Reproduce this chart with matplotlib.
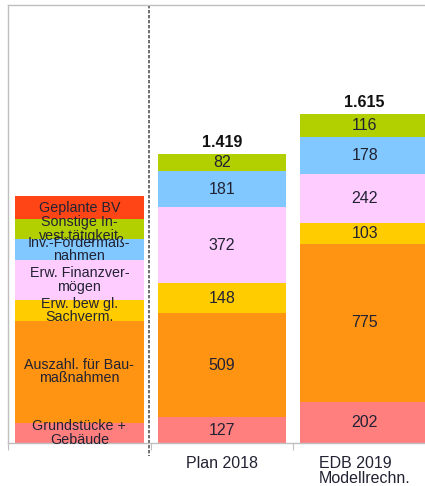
import matplotlib
matplotlib.use("Agg")
import matplotlib.pyplot as plt
import numpy as np

plt.rcParams['font.family'] = ['Liberation Sans', 'DejaVu Sans']

# Data
categories = ["Plan 2018", "EDB 2019\nModellrechn."]
series_names = ["Grundstücke +\nGebäude", "Auszahl. für Bau-\nmaßnahmen", "Erw. bew gl.\nSachverm.",
                "Erw. Finanzver-\nmögen", "Inv.-Fördermaß-\nnahmen", "Sonstige In-\nvest.tätigkeit", "Geplante BV"]
plan_2018 = [127, 509, 148, 372, 181, 82, 0]
edb_2019 = [202, 775, 103, 242, 178, 116, 0]
totals = ["1.419", "1.615"]
legend_heights = [100, 500, 100, 200, 100, 100, 110]
colors = ["#FF7F7F", "#FF9412", "#FFCC00", "#FFCCFF", "#80C8FF", "#B2CF00", "#FF4516"]

W, H = 425, 486
fig = plt.figure(figsize=(W / 100, H / 100), dpi=100)
ax = fig.add_axes([8 / W, 43 / H, 428 / W, 438 / H])

text_col = "#222233"
width = 0.9

# legend column
bottom = 0
for h, c, name in zip(legend_heights, colors, series_names):
    ax.bar(0, h, width=width, bottom=bottom, color=c, linewidth=0)
    ax.text(0, bottom + h / 2, name, ha="center", va="center", fontsize=10.3,
            color=text_col, linespacing=0.95)
    bottom += h

# data bars
for i, vals in enumerate([plan_2018, edb_2019]):
    x = i + 1
    bottom = 0
    for v, c in zip(vals, colors):
        if v <= 0:
            continue
        ax.bar(x, v, width=width, bottom=bottom, color=c, linewidth=0)
        ax.text(x, bottom + v / 2, str(v), ha="center", va="center", fontsize=11.5, color=text_col)
        bottom += v
    ax.annotate(totals[i], (x, bottom), xytext=(0, 3), textcoords="offset points",
                ha="center", va="bottom", fontsize=11.5, fontweight="bold", color="#111111")
    ax.annotate(categories[i], (x, 0), xycoords=ax.get_xaxis_transform(), xytext=(0, -9),
                textcoords="offset points", ha="center", va="top",
                multialignment="left", fontsize=11.5, color=text_col, linespacing=1.0,
                annotation_clip=False)

ax.set_xlim(-0.5, 2.5)
ax.set_ylim(0, 2150)

# dotted separator
ax.plot([0.49, 0.49], [1.0, -0.03], transform=ax.get_xaxis_transform(), color="#555555",
        linewidth=1.2, linestyle=(0, (2, 1)), clip_on=False)

for s in ["left", "top", "bottom", "right"]:
    ax.spines[s].set_color("#BFBFBF")
    ax.spines[s].set_linewidth(1.0)
ax.set_yticks([])
ax.set_xticks([-0.5, 0.5, 1.5, 2.5])
ax.set_xticklabels([])
ax.tick_params(axis="x", length=5, color="#BFBFBF", direction="out")

fig.savefig("out.png", dpi=100)
